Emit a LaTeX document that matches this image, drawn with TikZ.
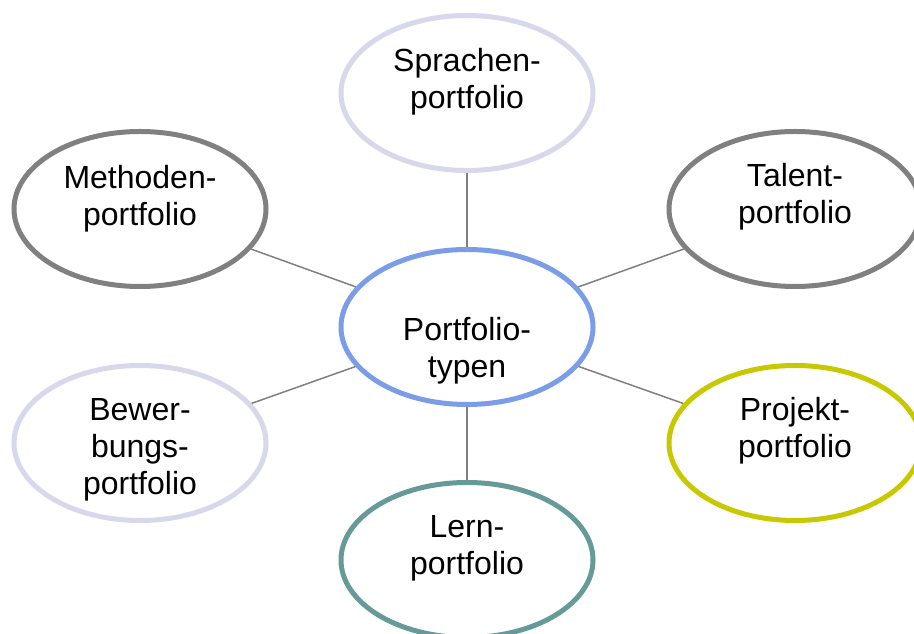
\documentclass[tikz,border=0pt]{standalone}
\usepackage{fontspec}
\setmainfont{Liberation Sans}
\usepackage{xcolor}
\usetikzlibrary{shapes.geometric}

\definecolor{ringgray}{HTML}{808080}
\definecolor{ringlilac}{HTML}{D8D8EC}
\definecolor{ringblue}{HTML}{7B9DE8}
\definecolor{ringyellow}{HTML}{C8C800}
\definecolor{ringteal}{HTML}{669A98}
\definecolor{linkgray}{HTML}{808080}

\tikzset{
    bubble/.style={ellipse, line width=5pt, fill=white, inner sep=0pt,
      minimum width=252pt, minimum height=155pt},
    caption/.style={font=\fontsize{32}{37}\selectfont, align=center, inner sep=0pt},
    link/.style={draw=linkgray, line width=1.5pt}
}

\begin{document}
\begin{tikzpicture}[x=1pt, y=1pt]
    \useasboundingbox (0, 0) rectangle (914, 634);

    \node[bubble, draw=ringblue] (typen) at (467, 307) {};
    \node[bubble, draw=ringlilac] (sprachen) at (467, 541) {};
    \node[bubble, draw=ringgray] (methoden) at (140, 425) {};
    \node[bubble, draw=ringgray] (talent) at (795, 425) {};
    \node[bubble, draw=ringlilac] (bewerbung) at (140, 191) {};
    \node[bubble, draw=ringyellow] (projekt) at (795, 191) {};
    \node[bubble, draw=ringteal] (lern) at (467, 74) {};

    \node[caption] (typen-t) at (467, 283) {Portfolio-\\typen};
    \node[caption] (sprachen-t) at (467, 552) {Sprachen-\\portfolio};
    \node[caption] (methoden-t) at (140, 435) {Methoden-\\portfolio};
    \node[caption] (talent-t) at (795, 437) {Talent-\\portfolio};
    \node[caption] (bewerbung-t) at (140, 184) {Bewer-\\bungs-\\portfolio};
    \node[caption] (projekt-t) at (795, 203) {Projekt-\\portfolio};
    \node[caption] (lern-t) at (467, 86) {Lern-\\portfolio};

    \draw[link] (typen) -- (sprachen);
    \draw[link] (typen) -- (methoden);
    \draw[link] (typen) -- (talent);
    \draw[link] (typen) -- (bewerbung);
    \draw[link] (typen) -- (projekt);
    \draw[link] (typen) -- (lern);
\end{tikzpicture}
\end{document}
